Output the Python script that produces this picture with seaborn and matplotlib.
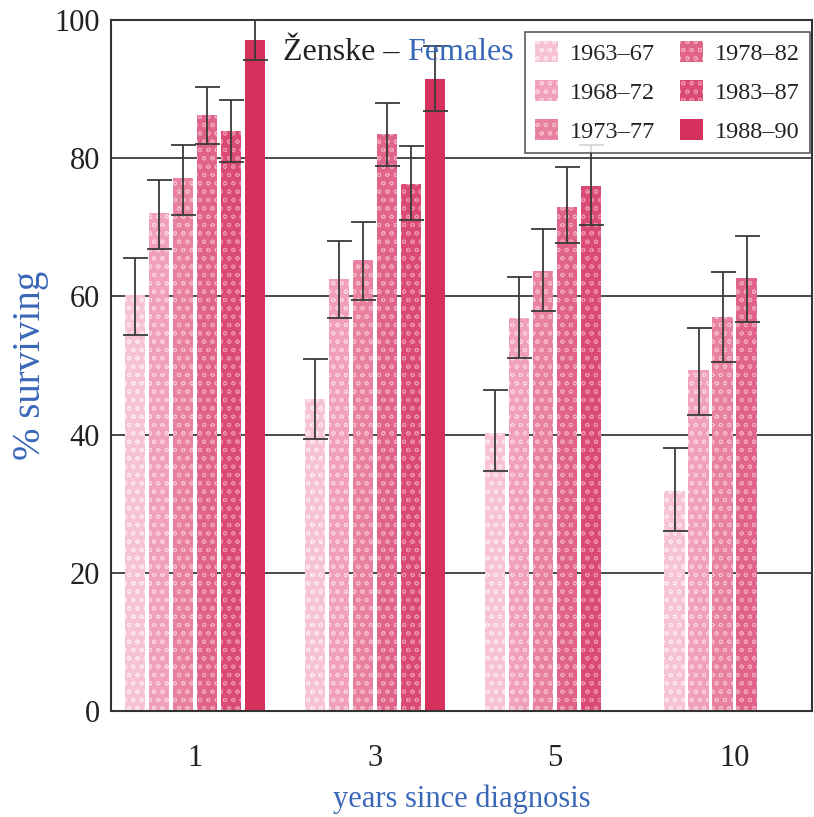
import numpy as np
import pandas as pd
import matplotlib
matplotlib.use("Agg")
import matplotlib.pyplot as plt
from matplotlib.patches import Patch
import seaborn as sns

# ---------------- data ----------------
years = ["1", "3", "5", "10"]
periods = ["1963–67", "1968–72", "1973–77", "1978–82", "1983–87", "1988–90"]

# survival % per period, for years 1, 3, 5, 10 (nan = not available)
p1963 = [60.2, 45.1, 40.3, 31.8]
p1968 = [72.0, 62.5, 56.9, 49.3]
p1973 = [77.1, 65.3, 63.7, 57.0]
p1978 = [86.2, 83.5, 73.0, 62.6]
p1983 = [84.0, 76.3, 76.0, np.nan]
p1988 = [97.1, 91.4, np.nan, np.nan]

# lower / upper confidence limits
lo1963 = [54.4, 39.3, 34.7, 26.0]
hi1963 = [65.6, 51.0, 46.4, 38.0]
lo1968 = [66.9, 56.9, 51.1, 42.8]
hi1968 = [76.9, 68.0, 62.8, 55.4]
lo1973 = [71.8, 59.5, 57.9, 50.5]
hi1973 = [81.9, 70.8, 69.8, 63.6]
lo1978 = [82.0, 78.8, 67.8, 56.3]
hi1978 = [90.3, 88.0, 78.7, 68.7]
lo1983 = [79.5, 71.1, 70.4, np.nan]
hi1983 = [88.4, 81.8, 81.9, np.nan]
lo1988 = [94.2, 86.9, np.nan, np.nan]
hi1988 = [100.0, 96.2, np.nan, np.nan]

vals = [p1963, p1968, p1973, p1978, p1983, p1988]
los = [lo1963, lo1968, lo1973, lo1978, lo1983, lo1988]
his = [hi1963, hi1968, hi1973, hi1978, hi1983, hi1988]

colors = ["#f7c3d4", "#f0a0b9", "#e8819f", "#e0638a", "#d94a74", "#d6305c"]
hatch_cols = ["#fde9ef", "#fad2de", "#f6bccc", "#f2a7bc", "#ef93ad", None]

rows = []
for j, per in enumerate(periods):
    for i, yr in enumerate(years):
        rows.append(dict(years=yr, period=per, pct=vals[j][i], lo=los[j][i], hi=his[j][i]))
df = pd.DataFrame(rows).dropna()

# ---------------- style ----------------
sns.set_theme(style="white")
plt.rcParams["font.family"] = ["Liberation Serif", "DejaVu Serif"]
plt.rcParams["hatch.linewidth"] = 0.7
blue = "#3a68b8"
fs = 22

fig = plt.figure(figsize=(8.14, 8.17), dpi=100)
ax = fig.add_axes([111 / 814, 106 / 817, 701 / 814, 691 / 817])

sns.barplot(data=df, x="years", y="pct", hue="period", order=years, hue_order=periods,
            palette=colors, saturation=1, errorbar=None, width=0.8, gap=0.15,
            legend=False, ax=ax, zorder=2)

nh = len(periods)
slot = 0.8 / nh
for bar in ax.patches:
    h = bar.get_height()
    if not np.isfinite(h) or h <= 0:
        continue
    cx = bar.get_x() + bar.get_width() / 2
    ci = int(round(cx))
    hj = int(round((cx - ci + 0.4) / slot - 0.5))
    if hatch_cols[hj] is not None:
        bar.set_hatch("oo")
        bar.set_edgecolor(hatch_cols[hj])
    bar.set_linewidth(0)
    row = df[(df.years == years[ci]) & (df.period == periods[hj])].iloc[0]
    ax.errorbar(cx, row.pct, yerr=[[row.pct - row.lo], [row.hi - row.pct]],
                fmt="none", ecolor="#3a3a3a", elinewidth=1.3, capsize=9,
                capthick=1.3, zorder=3, clip_on=False)

ax.set_ylim(0, 100)
ax.set_xlim(-0.467, 3.43)
ax.set_yticks([0, 20, 40, 60, 80, 100])
ax.yaxis.grid(True, color="#4a4a4a", lw=1.4)
ax.set_axisbelow(True)
ax.tick_params(axis="both", length=0, labelsize=fs, colors="#222222")
ax.tick_params(axis="x", pad=24)
ax.tick_params(axis="y", pad=8)
for s in ax.spines.values():
    s.set_color("#333333")
    s.set_linewidth(1.5)

ax.set_xlabel("years since diagnosis", color=blue, fontsize=fs, labelpad=8)
ax.set_ylabel("% surviving", color=blue, fontsize=28)
ax.yaxis.set_label_coords(-0.088, 0.5)

t1 = ax.text(0.245, 0.942, "Ženske – ", transform=ax.transAxes, fontsize=23,
             color="#222222", va="baseline", ha="left")
ax.annotate("Females", xy=(1, 0), xycoords=t1, fontsize=23, color=blue,
            va="bottom", ha="left")

handles = []
for j, per in enumerate(periods):
    if hatch_cols[j] is not None:
        handles.append(Patch(facecolor=colors[j], edgecolor=hatch_cols[j], hatch="oo", lw=0))
    else:
        handles.append(Patch(facecolor=colors[j], edgecolor=colors[j], lw=0))
leg = ax.legend(handles, periods, ncol=2, loc="upper right", bbox_to_anchor=(0.997, 0.983),
                fontsize=17.5, frameon=True, fancybox=False, borderaxespad=0,
                handlelength=0.95, handleheight=0.95, handletextpad=0.5,
                columnspacing=1.0, labelspacing=0.62, borderpad=0.4)
leg.get_frame().set_edgecolor("#333333")
leg.get_frame().set_linewidth(1.2)
for t in leg.get_texts():
    t.set_color("#222222")

fig.savefig("out.png", dpi=100)
